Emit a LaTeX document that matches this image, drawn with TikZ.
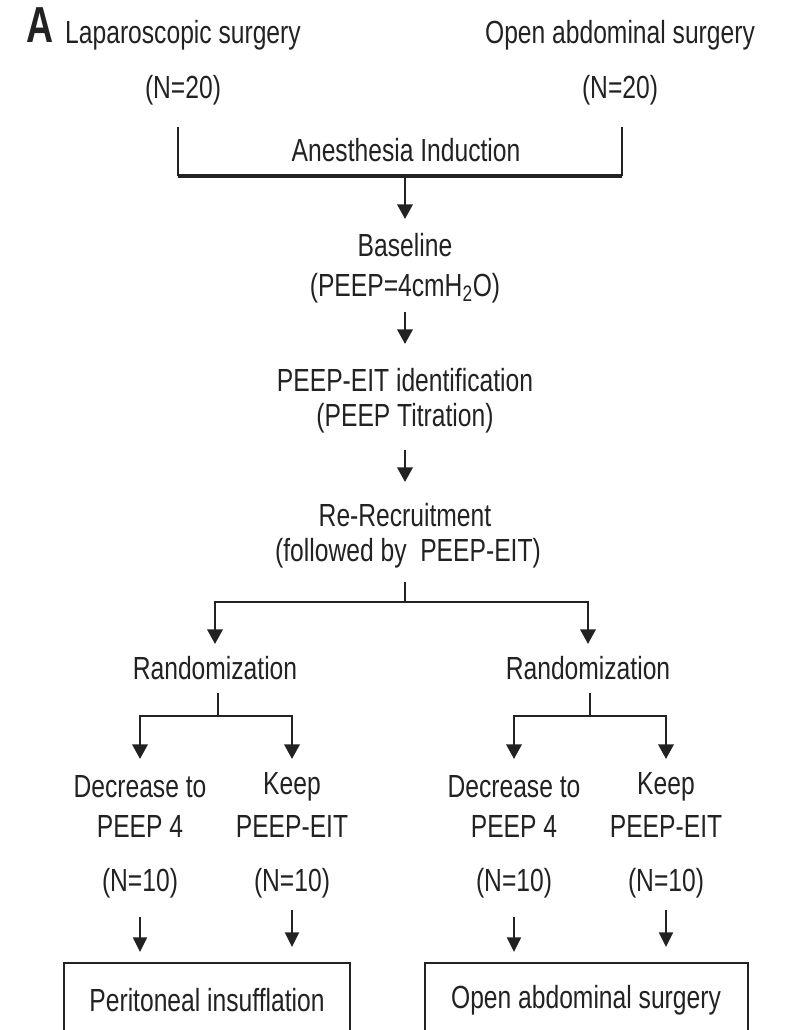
\documentclass[tikz,border=0pt]{standalone}
\usepackage{fontspec}
\setmainfont{Liberation Sans}[FakeStretch=0.77]
\newfontfamily\bigA{Liberation Sans}[FakeStretch=0.74]
\usetikzlibrary{arrows.meta}
\definecolor{ink}{HTML}{222222}
\begin{document}
\begin{tikzpicture}[x=0.75pt,y=-0.75pt,
  lbl/.style={inner sep=0pt,text=ink,font=\fontsize{24}{28}\selectfont},
  ln/.style={draw=ink,line width=1.9pt},
  arr/.style={draw=ink,line width=1.9pt,-{Triangle[width=11.5pt,length=11pt]}},
  sarr/.style={draw=ink,line width=1.5pt,-{Triangle[width=10.5pt,length=11pt]}},
  bx/.style={draw=ink,line width=1pt}]
\useasboundingbox (0,0) rectangle (785,1030);
\node[inner sep=0pt,text=ink,anchor=base,font=\bigA\fontsize{38}{40}\bfseries\selectfont] (A) at (40,43) {A};
\node[lbl] (lap) at (183,35) {Laparoscopic surgery};
\node[lbl] (open) at (620,35) {Open abdominal surgery};
\node[lbl] (n1) at (183,90) {(N=20)};
\node[lbl] (n2) at (620,90) {(N=20)};
\node[lbl] (ind) at (406,150) {Anesthesia Induction};
\coordinate (bl) at (178,127); \coordinate (blb) at (178,176);
\coordinate (br) at (622,127); \coordinate (brb) at (622,176);
\coordinate (bc) at (405,176); \coordinate (bca) at (405,219);
\draw[ln] (bl) -- (blb);
\draw[ln] (br) -- (brb);
\draw[draw=ink,line width=2.6pt] (blb) -- (brb);
\draw[arr] (bc) -- (bca);
\node[lbl] (base) at (405,245) {Baseline};
\node[lbl] (peep4) at (405,288) {(PEEP=4cmH\textsubscript{2}O)};
\coordinate (a1s) at (405,312); \coordinate (a1e) at (405,344);
\draw[arr] (a1s) -- (a1e);
\node[lbl] (eit) at (405,380) {PEEP-EIT identification};
\node[lbl] (tit) at (405,418) {(PEEP Titration)};
\coordinate (a2s) at (405,450); \coordinate (a2e) at (405,482);
\draw[arr] (a2s) -- (a2e);
\node[lbl] (rr) at (405,515) {Re-Recruitment};
\node[lbl] (fol) at (408,553) {(followed by\ \ PEEP-EIT)};
\coordinate (s0) at (405,582); \coordinate (s1) at (405,602);
\coordinate (sl) at (215,602); \coordinate (sr) at (588,602);
\coordinate (sle) at (215,644); \coordinate (sre) at (588,644);
\draw[ln] (s0) -- (s1);
\draw[arr] (s1) -- (sl) -- (sle);
\draw[arr] (s1) -- (sr) -- (sre);
\node[lbl] (randL) at (215,668) {Randomization};
\node[lbl] (randR) at (588,668) {Randomization};
% left split
\coordinate (l0) at (218,693); \coordinate (l1) at (218,716);
\coordinate (la) at (140,716); \coordinate (lb) at (292,716);
\coordinate (lae) at (140,759); \coordinate (lbe) at (292,759);
\draw[ln] (l0) -- (l1);
\draw[arr] (l1) -- (la) -- (lae);
\draw[arr] (l1) -- (lb) -- (lbe);
% right split
\coordinate (r0) at (590,693); \coordinate (r1) at (590,716);
\coordinate (ra) at (514,716); \coordinate (rb) at (666,716);
\coordinate (rae) at (514,759); \coordinate (rbe) at (666,759);
\draw[ln] (r0) -- (r1);
\draw[arr] (r1) -- (ra) -- (rae);
\draw[arr] (r1) -- (rb) -- (rbe);
\node[lbl] (d1) at (140,787) {Decrease to};
\node[lbl] (d1b) at (140,826) {PEEP 4};
\node[lbl] (d1n) at (140,883) {(N=10)};
\node[lbl] (k1) at (292,787) {Keep};
\node[lbl] (k1b) at (292,826) {PEEP-EIT};
\node[lbl] (k1n) at (292,883) {(N=10)};
\node[lbl] (d2) at (514,787) {Decrease to};
\node[lbl] (d2b) at (514,826) {PEEP 4};
\node[lbl] (d2n) at (514,883) {(N=10)};
\node[lbl] (k2) at (666,787) {Keep};
\node[lbl] (k2b) at (666,826) {PEEP-EIT};
\node[lbl] (k2n) at (666,883) {(N=10)};
\coordinate (p1s) at (140,917); \coordinate (p1e) at (140,952);
\coordinate (p2s) at (292,910); \coordinate (p2e) at (292,947);
\coordinate (p3s) at (514,917); \coordinate (p3e) at (514,952);
\coordinate (p4s) at (666,910); \coordinate (p4e) at (666,947);
\draw[sarr] (p1s) -- (p1e);
\draw[sarr] (p2s) -- (p2e);
\draw[sarr] (p3s) -- (p3e);
\draw[sarr] (p4s) -- (p4e);
% bottom boxes (their lower edge runs past the picture)
\draw[bx] (64,1040) -- (64,963) -- (350,963) -- (350,1040);
\draw[bx] (425,1040) -- (425,963) -- (748,963) -- (748,1040);
\node[lbl] (peri) at (207,1000) {Peritoneal insufflation};
\node[lbl] (oas) at (586,1000) {Open abdominal surgery};
\end{tikzpicture}
\end{document}
